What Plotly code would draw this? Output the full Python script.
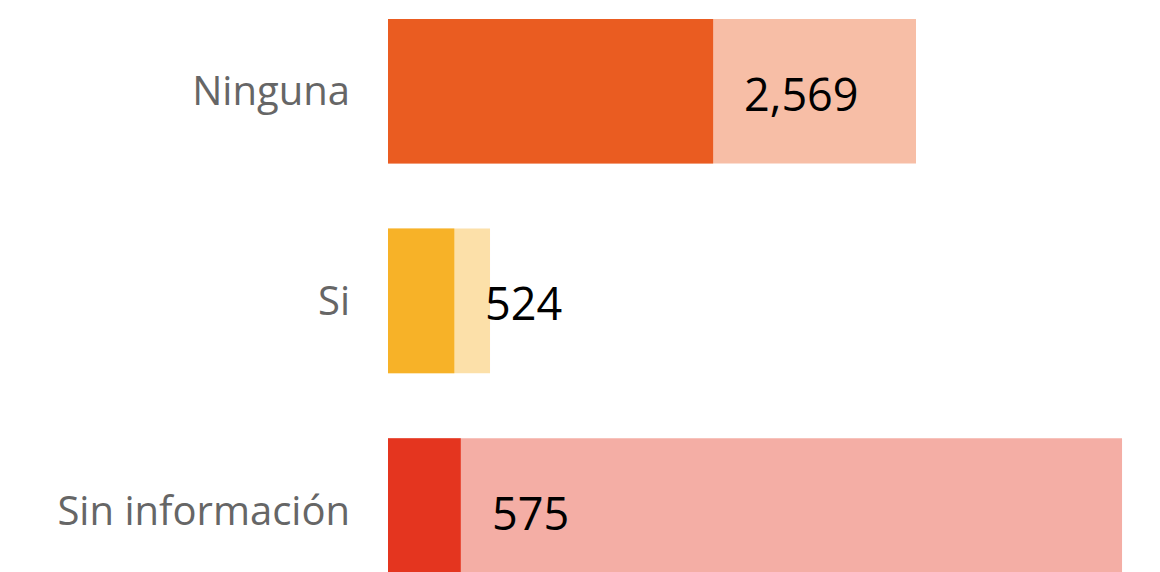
import plotly.graph_objects as go

categories = ["Ninguna", "Si", "Sin información"]
values = [2569, 524, 575]
totals = [4172, 806, 5800]
colors = ["#EA5C21", "#F7B228", "#E4351F"]

fig = go.Figure()
fig.add_trace(go.Bar(
    y=categories, x=totals, orientation="h",
    marker=dict(color=colors, opacity=0.4, line=dict(width=0)),
    width=0.69, hoverinfo="skip", showlegend=False,
))
fig.add_trace(go.Bar(
    y=categories, x=values, orientation="h",
    marker=dict(color=colors, line=dict(width=0)),
    width=0.69, hoverinfo="skip", showlegend=False,
))

for c, v in zip(categories, values):
    fig.add_annotation(
        x=v, y=c, text=f"{v:,}", showarrow=False,
        xanchor="left", yanchor="middle", xshift=29, yshift=-2,
        font=dict(family="Open Sans", size=45, color="#000000"),
    )

fig.update_layout(
    width=1160, height=572,
    margin=dict(l=380, r=8, t=0, b=0),
    barmode="overlay",
    paper_bgcolor="white", plot_bgcolor="white",
    xaxis=dict(range=[0, 6100], visible=False, fixedrange=True),
    yaxis=dict(
        range=[2.3305, -0.3970], type="category",
        categoryorder="array", categoryarray=categories,
        showgrid=False, zeroline=False, showline=False, ticks="",
        ticklabelstandoff=37, automargin=False,
        tickfont=dict(family="Open Sans", size=40, color="#666666"),
        fixedrange=True,
    ),
)

fig.write_html("out.html", config={"displayModeBar": False})
